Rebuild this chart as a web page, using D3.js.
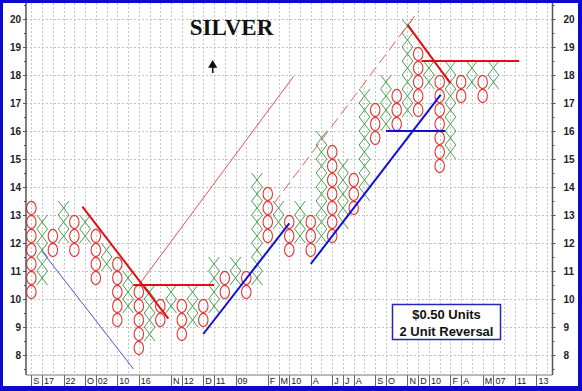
<!DOCTYPE html>
<html>
<head>
<meta charset="utf-8">
<script src="https://cdn.jsdelivr.net/npm/d3@7"></script>
<style>
  html, body { margin: 0; padding: 0; background: #fff; }
  svg { display: block; }
</style>
</head>
<body>
<div id="chart"></div>
<script>
// point & figure columns ($0.50 boxes), values are box centres
var colTypes = ['O','X','O','X','O','X','O','X','O','X','O','X','O','X','O','X','O','X','O','X','O','X',
  'O','X','O','X','O','X','O','X','O','X','O','X','O','X','O','X','O','X','O','X','O','X'];
var colHigh = [13.25,12.75,12.25,13.25,12.75,12.75,12.25,11.75,11.25,10.75,10.25,10.25,9.75,10.25,9.75,10.25,
  9.75,11.25,10.75,11.25,10.75,14.25,13.75,13.25,12.75,13.25,12.75,15.75,15.25,14.75,14.25,17.25,16.75,17.75,
  17.25,19.75,18.75,18.25,17.75,18.25,17.75,18.25,17.75,18.25];
var colLow = [10.25,10.75,11.75,12.25,11.75,12.25,10.75,11.25,9.25,9.75,8.25,8.75,9.25,9.75,8.75,9.25,
  9.25,9.75,10.25,10.75,10.25,10.75,12.25,12.75,11.75,12.25,11.75,12.25,12.25,12.75,13.25,13.75,15.75,16.25,
  16.25,16.75,16.75,17.75,14.75,15.25,17.25,17.75,17.25,17.75];

// date labels under the columns
var labelCols = [1,2,4,6,7,9,11,14,15,17,18,20,23,24,25,27,29,30,31,33,34,36,37,38,40,41,43,44,46,48];
var labelText = ['S','17','22','O','02','10','16','N','12','D','11','09','F','M','10','A','J','J','A','S','O',
  'N','D','10','F','A','M','07','11','13'];

var yTicks = [8,9,10,11,12,13,14,15,16,17,18,19,20];

// trend lines as [column, price] pairs
var redTrend = [[[5.75,13.3],[13.75,9.3]], [[10.5,10.5],[18,10.5]], [[36,19.8],[40,17.7]], [[37.3,18.5],[46.4,18.5]]];
var blueTrend = [[[17,8.75],[25,12.7]], [[27,11.25],[39.1,17.3]], [[34,16],[39.5,16]]];
var thinBlueTrend = [[[2,11.7],[10.5,7.5]]];
var thinRedTrend = [[[11,10.5],[25.4,17.95]]];
var dashRedTrend = [[[23.55,13.4],[37.05,20.3]]];

var width = 582;
var height = 391;
var plotLeft = 26;
var plotRight = 552.5;
var plotTop = 3;
var plotBottom = 375;

var x = d3.scaleLinear().domain([0.5, 49.5]).range([plotLeft, plotRight]);
var y = d3.scaleLinear().domain([8, 20]).range([355, 19]);
var boxW = x(2) - x(1);
var boxH = y(0) - y(0.5);

var svg = d3.select('#chart').append('svg')
  .attr('width', width)
  .attr('height', height)
  .style('font-family', 'Liberation Sans, Arial, sans-serif');

svg.append('rect').attr('width', width).attr('height', height).attr('fill', '#fff');

svg.append('clipPath').attr('id', 'plot-clip')
  .append('rect')
  .attr('x', plotLeft).attr('y', plotTop)
  .attr('width', plotRight - plotLeft).attr('height', plotBottom - plotTop);

// grid
var grid = svg.append('g').attr('stroke', '#c4c4c4').attr('stroke-dasharray', '2,2').attr('stroke-width', 1);
grid.selectAll('line.h').data(yTicks).enter().append('line')
  .attr('x1', plotLeft).attr('x2', plotRight)
  .attr('y1', function (d) { return Math.round(y(d)) + 0.5; })
  .attr('y2', function (d) { return Math.round(y(d)) + 0.5; });
grid.selectAll('line.v').data(d3.range(1, 50)).enter().append('line')
  .attr('y1', plotTop).attr('y2', plotBottom)
  .attr('x1', function (d) { return Math.round(x(d)) + 0.5; })
  .attr('x2', function (d) { return Math.round(x(d)) + 0.5; });

var plot = svg.append('g').attr('clip-path', 'url(#plot-clip)');

// build one entry per box
var boxes = [];
colTypes.forEach(function (t, i) {
  var v;
  for (v = colLow[i]; v <= colHigh[i] + 0.001; v += 0.5) {
    boxes.push({ col: i + 1, type: t, value: v });
  }
});

plot.selectAll('ellipse.o').data(boxes.filter(function (b) { return b.type === 'O'; }))
  .enter().append('ellipse')
  .attr('cx', function (d) { return x(d.col); })
  .attr('cy', function (d) { return y(d.value); })
  .attr('rx', boxW * 0.44)
  .attr('ry', boxH * 0.47)
  .attr('fill', 'none')
  .attr('stroke', '#e83434')
  .attr('stroke-width', 1.1);

plot.selectAll('path.x').data(boxes.filter(function (b) { return b.type === 'X'; }))
  .enter().append('path')
  .attr('d', function (d) {
    var cx = x(d.col);
    var cy = y(d.value);
    var hw = boxW / 2;
    var hh = boxH / 2;
    return 'M' + (cx - hw) + ',' + (cy - hh) + 'L' + (cx + hw) + ',' + (cy + hh) +
      'M' + (cx - hw) + ',' + (cy + hh) + 'L' + (cx + hw) + ',' + (cy - hh);
  })
  .attr('fill', 'none')
  .attr('stroke', '#46a04e')
  .attr('stroke-width', 1);

function drawLines(list, color, w, dash) {
  plot.selectAll(null).data(list).enter().append('line')
    .attr('x1', function (d) { return x(d[0][0]); })
    .attr('y1', function (d) { return y(d[0][1]); })
    .attr('x2', function (d) { return x(d[1][0]); })
    .attr('y2', function (d) { return y(d[1][1]); })
    .attr('stroke', color)
    .attr('stroke-width', w)
    .attr('stroke-dasharray', dash || null);
}

drawLines(thinRedTrend, '#e85050', 1);
drawLines(dashRedTrend, '#e86060', 1, '11,5');
drawLines(thinBlueTrend, '#5050d8', 1);
drawLines(redTrend, '#e01010', 2);
drawLines(blueTrend, '#1010d8', 2);

// axes
var leftAxis = svg.append('g').attr('transform', 'translate(' + plotLeft + ',0)')
  .call(d3.axisLeft(y).tickValues(yTicks).tickSize(3).tickPadding(2).tickFormat(d3.format('d')));
var rightAxis = svg.append('g').attr('transform', 'translate(' + plotRight + ',0)')
  .call(d3.axisRight(y).tickValues(yTicks).tickSize(3).tickPadding(8).tickFormat(d3.format('d')));
svg.append('g').attr('transform', 'translate(' + plotLeft + ',0)')
  .call(d3.axisLeft(y).tickValues(d3.range(7.5, 20.6, 1)).tickSize(2).tickFormat(''));
svg.append('g').attr('transform', 'translate(' + plotRight + ',0)')
  .call(d3.axisRight(y).tickValues(d3.range(7.5, 20.6, 1)).tickSize(2).tickFormat(''));

svg.selectAll('.domain').remove();
svg.selectAll('.tick line').attr('stroke', '#555');
[leftAxis, rightAxis].forEach(function (a) {
  a.selectAll('text')
    .attr('font-size', 10)
    .attr('font-weight', 'bold')
    .attr('fill', '#222')
    .style('font-family', 'Liberation Sans, Arial, sans-serif');
});

svg.append('line').attr('x1', plotLeft).attr('x2', plotLeft).attr('y1', plotTop).attr('y2', plotBottom)
  .attr('stroke', '#555').attr('stroke-width', 1.5);
svg.append('line').attr('x1', plotRight).attr('x2', plotRight).attr('y1', plotTop).attr('y2', plotBottom)
  .attr('stroke', '#555').attr('stroke-width', 1.5);

// date strip under the plot
svg.append('line').attr('x1', plotLeft).attr('x2', plotRight).attr('y1', plotBottom).attr('y2', plotBottom)
  .attr('stroke', '#777').attr('stroke-width', 1);
var strip = svg.append('g');
strip.selectAll('line').data(labelCols).enter().append('line')
  .attr('x1', function (d) { return Math.round(x(d)) + 0.5; })
  .attr('x2', function (d) { return Math.round(x(d)) + 0.5; })
  .attr('y1', plotBottom).attr('y2', 386)
  .attr('stroke', '#666');
strip.selectAll('text').data(labelCols).enter().append('text')
  .attr('x', function (d) { return x(d) + 2; })
  .attr('y', 384)
  .attr('font-size', 9)
  .attr('fill', '#222')
  .text(function (d, i) { return labelText[i]; });

// title and arrow
svg.append('text')
  .attr('x', 231.5).attr('y', 35)
  .attr('text-anchor', 'middle')
  .attr('font-family', 'Liberation Serif, Times New Roman, serif')
  .attr('font-weight', 'bold')
  .attr('font-size', 23)
  .attr('fill', '#111')
  .text('SILVER');
svg.append('path')
  .attr('d', 'M212.7,73V65M209.5,67L212.7,61.5L215.9,67Z')
  .attr('stroke', '#111').attr('stroke-width', 1.6).attr('fill', '#111');

// units box
var legend = svg.append('g');
legend.append('rect')
  .attr('x', 392.5).attr('y', 304.5).attr('width', 108).attr('height', 35)
  .attr('fill', '#fff').attr('stroke', '#2424c0').attr('stroke-width', 1.5);
legend.append('text').attr('x', 446.5).attr('y', 318.5).attr('text-anchor', 'middle')
  .attr('font-size', 13).attr('font-weight', 'bold').attr('fill', '#111').text('$0.50 Units');
legend.append('text').attr('x', 446.5).attr('y', 335.5).attr('text-anchor', 'middle')
  .attr('font-size', 13).attr('font-weight', 'bold').attr('fill', '#111').text('2 Unit Reversal');

// blue frame
svg.append('rect').attr('x', 0).attr('y', 0).attr('width', width).attr('height', 3).attr('fill', '#0a0ad0');
svg.append('rect').attr('x', 0).attr('y', 0).attr('width', 3).attr('height', height).attr('fill', '#0a0ad0');
svg.append('rect').attr('x', width - 4).attr('y', 0).attr('width', 4).attr('height', height).attr('fill', '#0a0ad0');
svg.append('rect').attr('x', 0).attr('y', 386).attr('width', width).attr('height', 5).attr('fill', '#0a0ad0');
</script>
</body>
</html>
